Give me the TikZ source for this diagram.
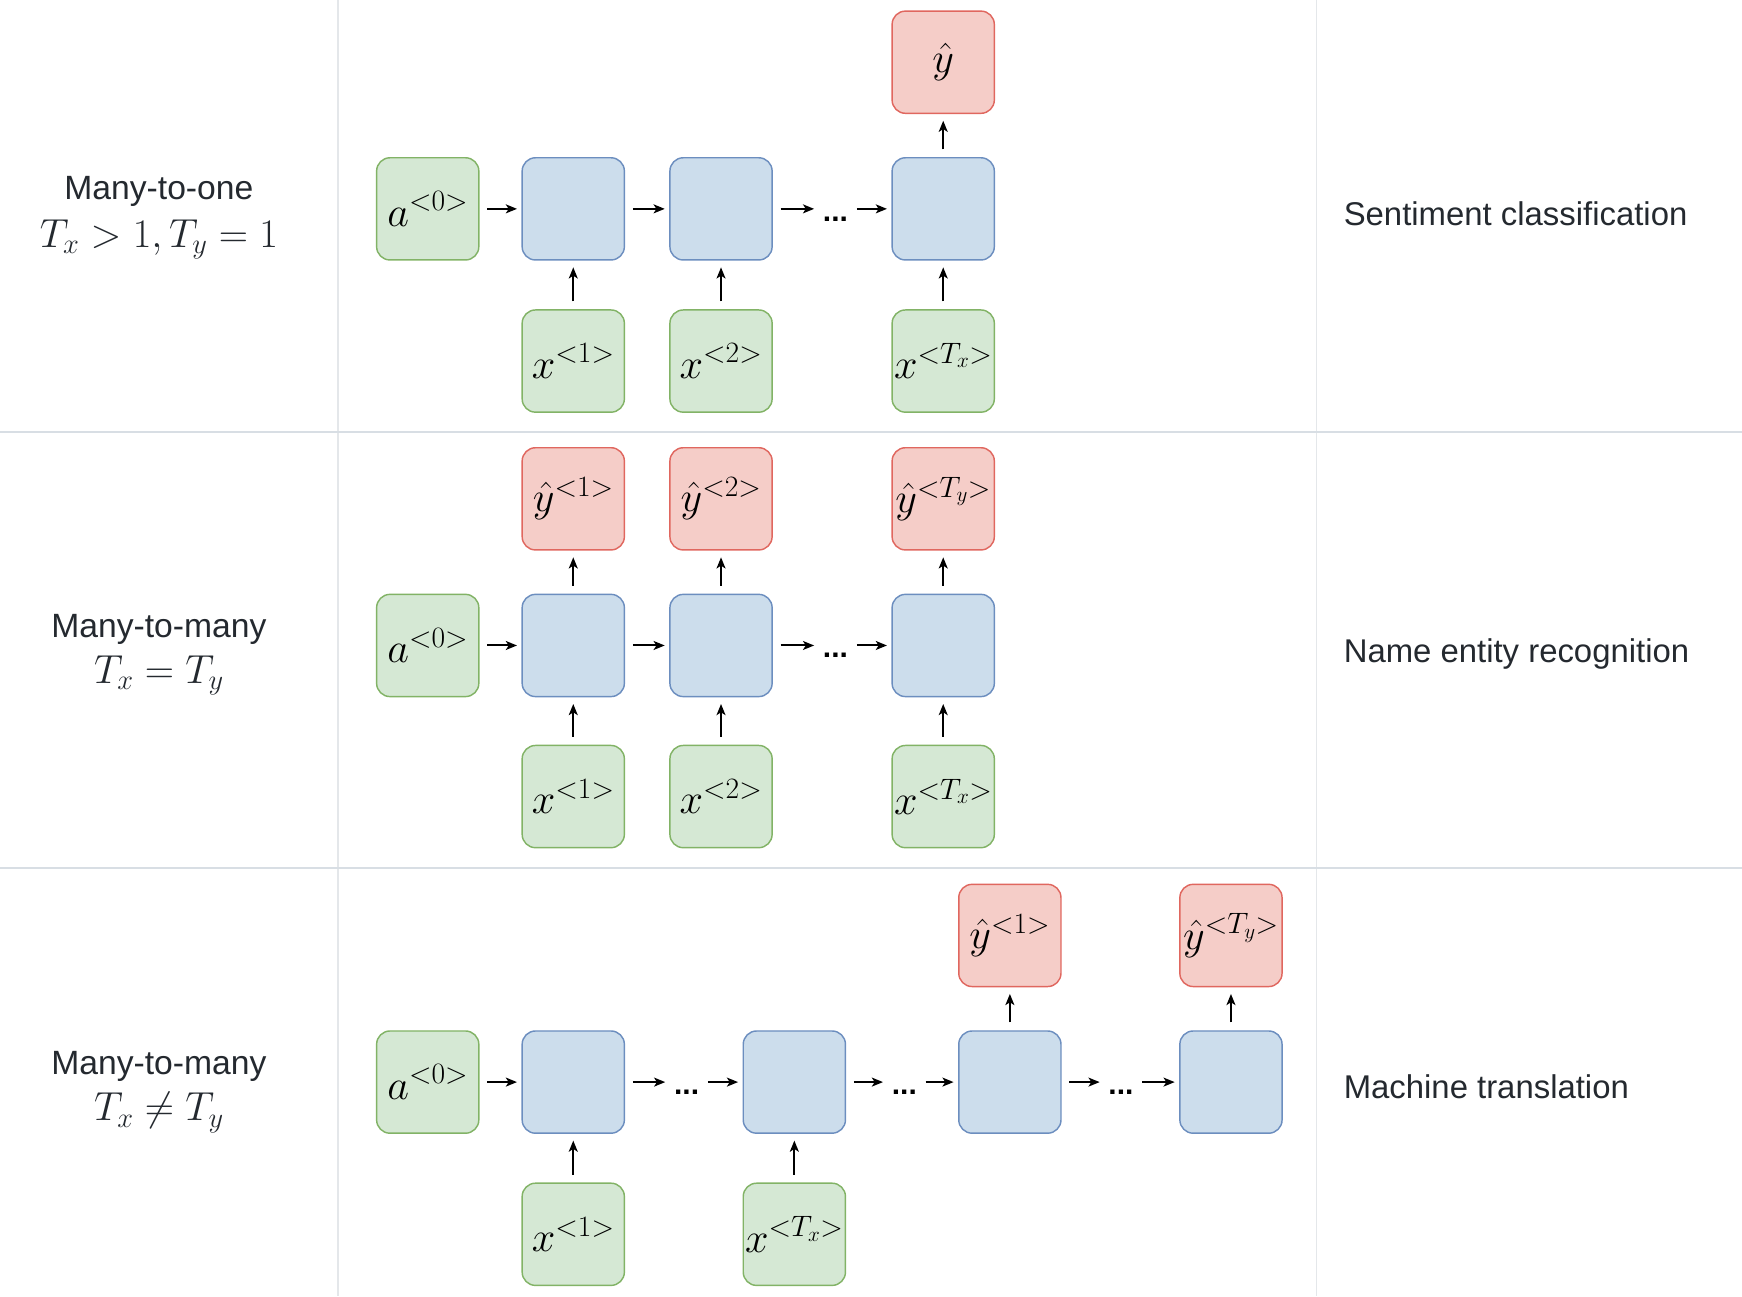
\RequirePackage{fix-cm}
\documentclass[tikz,border=0pt]{standalone}
\usepackage[no-math]{fontspec}
\newfontfamily\lblfont{Liberation Sans}
\usetikzlibrary{arrows.meta}
\definecolor{gfill}{HTML}{D5E8D4}
\definecolor{gdraw}{HTML}{82B366}
\definecolor{bfill}{HTML}{CCDDEC}
\definecolor{bdraw}{HTML}{6C8EBF}
\definecolor{rfill}{HTML}{F5CDC8}
\definecolor{rdraw}{HTML}{E0675F}
\definecolor{gridh}{HTML}{D8DEE4}
\definecolor{gridv}{HTML}{E4E7EA}
\definecolor{txt}{HTML}{24292F}
\begin{document}
\begin{tikzpicture}[x=1pt,y=-1pt,
  basebox/.style={rounded corners=12pt, minimum width=92pt, minimum height=92pt, inner sep=0pt, line width=1.3pt, font=\fontsize{38}{44}\selectfont},
  inbox/.style={basebox, fill=gfill, draw=gdraw},
  rnn/.style={basebox, fill=bfill, draw=bdraw},
  outbox/.style={basebox, fill=rfill, draw=rdraw},
  arr/.style={line width=1.8pt, -{Stealth[length=10pt,width=8pt,inset=2.5pt]}},
  harr/.style={arr, shorten <=7pt, shorten >=4pt},
  varr/.style={arr, shorten <=7pt, shorten >=6pt},
  dotsn/.style={minimum width=38pt, inner sep=0pt, anchor=base, font=\lblfont\bfseries\fontsize{27}{30}\selectfont},
  lbl/.style={font=\lblfont\fontsize{30.3}{34}\selectfont, text=txt, anchor=base},
  mlbl/.style={font=\fontsize{36.5}{42}\selectfont, text=txt, anchor=base},
  rlbl/.style={lbl, font=\lblfont\fontsize{29.6}{34}\selectfont, anchor=base west},
  gridlh/.style={draw=gridh, line width=2pt},
  gridlv/.style={draw=gridv, line width=1.4pt}]
\useasboundingbox (0,0) rectangle (1568,1166.6);

% grid
\draw[gridlv] (304,0) -- (304,1166.6);
\draw[gridlv] (1185,0) -- (1185,1166.6);
\draw[gridlh] (0,389) -- (1568,389);
\draw[gridlh] (0,781) -- (1568,781);

% labels
\node[lbl] (l1a) at (143,180) {Many-to-one};
\node[mlbl] (l1b) at (143,223) {$T_x > 1, T_y = 1$};
\node[rlbl] (r1) at (1206,203) {Sentiment classification};
\node[lbl] (l2a) at (143,574) {Many-to-many};
\node[mlbl] (l2b) at (143,615) {$T_x = T_y$};
\node[rlbl] (r2) at (1206,596) {Name entity recognition};
\node[lbl] (l3a) at (143,967) {Many-to-many};
\node[mlbl] (l3b) at (143,1009) {$T_x \neq T_y$};
\node[rlbl] (r3) at (1206,989) {Machine translation};

% row 1
\node[inbox] (a1) at (385,188) {$a^{<0>}$};
\node[rnn] (b11) at (516,188) {};
\node[rnn] (b12) at (649,188) {};
\node[rnn] (b13) at (849,188) {};
\node[outbox] (y11) at (849,56) {$\hat{y}$};
\node[inbox] (x11) at (516,325) {$x^{<1>}$};
\node[inbox] (x12) at (649,325) {$x^{<2>}$};
\node[inbox] (x13) at (849,325) {$x^{<T_x>}$};
\node[dotsn] (d11) at (752,199) {...};
\draw[harr] (a1) -- (b11);
\draw[harr] (b11) -- (b12);
\draw[harr, shorten >=0pt] (b12) -- (b12 -| d11.west);
\draw[harr, shorten <=0pt] (b13 -| d11.east) -- (b13);
\draw[varr] (x11) -- (b11);
\draw[varr] (x12) -- (b12);
\draw[varr] (x13) -- (b13);
\draw[varr] (b13) -- (y11);

% row 2
\node[inbox] (a2) at (385,581) {$a^{<0>}$};
\node[rnn] (b21) at (516,581) {};
\node[rnn] (b22) at (649,581) {};
\node[rnn] (b23) at (849,581) {};
\node[outbox] (y21) at (516,449) {$\hat{y}^{<1>}$};
\node[outbox] (y22) at (649,449) {$\hat{y}^{<2>}$};
\node[outbox] (y23) at (849,449) {$\hat{y}^{<T_y>}$};
\node[inbox] (x21) at (516,717) {$x^{<1>}$};
\node[inbox] (x22) at (649,717) {$x^{<2>}$};
\node[inbox] (x23) at (849,717) {$x^{<T_x>}$};
\node[dotsn] (d21) at (752,592) {...};
\draw[harr] (a2) -- (b21);
\draw[harr] (b21) -- (b22);
\draw[harr, shorten >=0pt] (b22) -- (b22 -| d21.west);
\draw[harr, shorten <=0pt] (b23 -| d21.east) -- (b23);
\draw[varr] (x21) -- (b21);
\draw[varr] (x22) -- (b22);
\draw[varr] (x23) -- (b23);
\draw[varr] (b21) -- (y21);
\draw[varr] (b22) -- (y22);
\draw[varr] (b23) -- (y23);

% row 3
\node[inbox] (a3) at (385,974) {$a^{<0>}$};
\node[rnn] (b31) at (516,974) {};
\node[rnn] (b32) at (715,974) {};
\node[rnn] (b33) at (909,974) {};
\node[rnn] (b34) at (1108,974) {};
\node[outbox] (y31) at (909,842) {$\hat{y}^{<1>}$};
\node[outbox] (y32) at (1108,842) {$\hat{y}^{<T_y>}$};
\node[inbox] (x31) at (516,1111) {$x^{<1>}$};
\node[inbox] (x32) at (715,1111) {$x^{<T_x>}$};
\node[dotsn] (d31) at (618,985) {...};
\node[dotsn] (d32) at (814,985) {...};
\node[dotsn] (d33) at (1009,985) {...};
\draw[harr] (a3) -- (b31);
\draw[harr, shorten >=0pt] (b31) -- (b31 -| d31.west);
\draw[harr, shorten <=0pt] (b32 -| d31.east) -- (b32);
\draw[harr, shorten >=0pt] (b32) -- (b32 -| d32.west);
\draw[harr, shorten <=0pt] (b33 -| d32.east) -- (b33);
\draw[harr, shorten >=0pt] (b33) -- (b33 -| d33.west);
\draw[harr, shorten <=0pt] (b34 -| d33.east) -- (b34);
\draw[varr] (x31) -- (b31);
\draw[varr] (x32) -- (b32);
\draw[varr] (b33) -- (y31);
\draw[varr] (b34) -- (y32);
\end{tikzpicture}
\end{document}
